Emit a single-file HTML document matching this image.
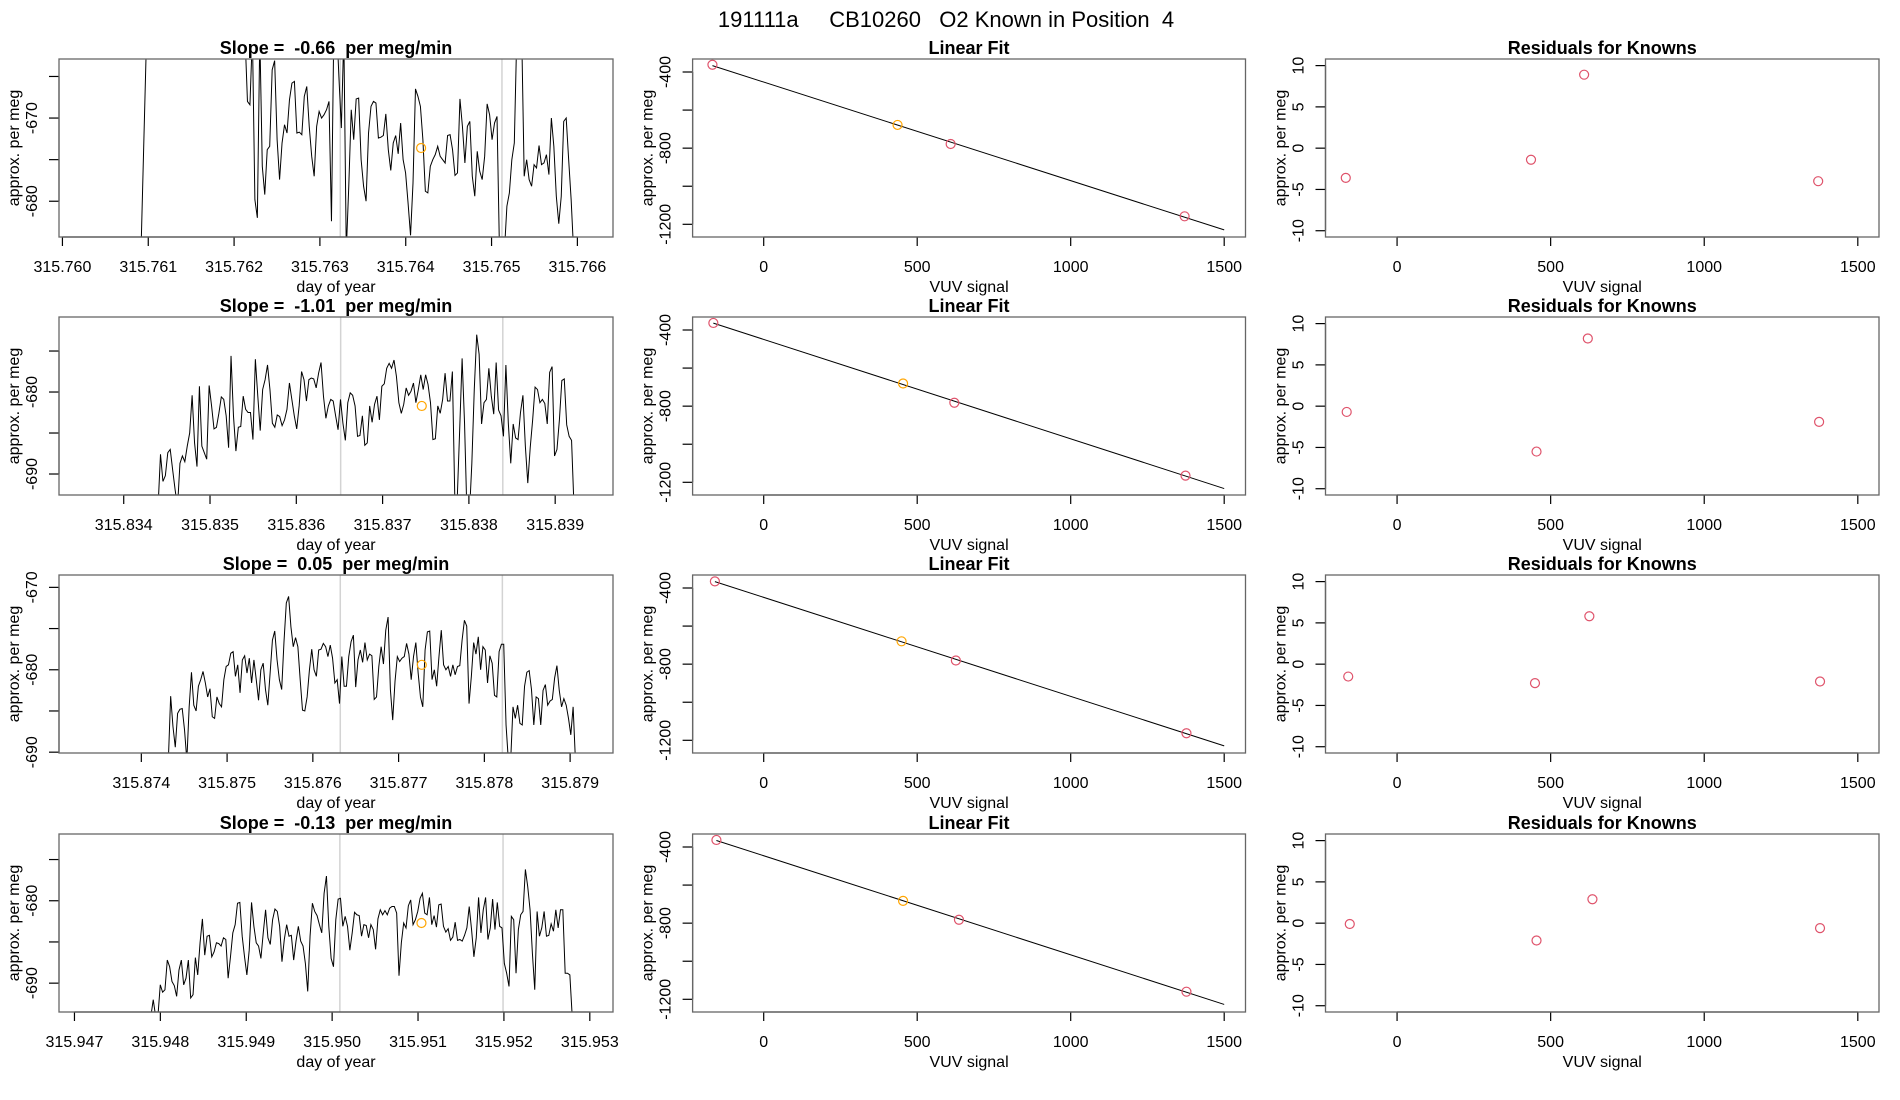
<!DOCTYPE html>
<html>
<head>
<meta charset="utf-8">
<style>
html,body{margin:0;padding:0;background:#fff;}
svg{display:block;font-family:"Liberation Sans",Arial,sans-serif;}
</style>
</head>
<body>
<svg id="fig" width="1900" height="1100" viewBox="0 0 1900 1100" xmlns="http://www.w3.org/2000/svg">
<defs></defs>
</svg>
<script>
// ---------- DATA ----------
const mainTitle = "191111a     CB10260   O2 Known in Position  4";
const slopeLabels = ["-0.66", "-1.01", "0.05", "-0.13"];

// time series start/end (day of year), samples evenly spaced
const r1Start = 315.760918, r1End = 315.765956;
const r2Start = 315.834398, r2End = 315.839218;
const r3Start = 315.874315, r3End = 315.879062;
const r4Start = 315.947890, r4End = 315.952795;

const r1Y = [-685,-673.5,-662,-645,-645,-645,-645,-645,-645,-645,-645,-645,-645,-645,-645,-645,-645,-645,-645,-645,-645,-645,-645,-645,-645,-645,-645,-645,-645,-645,-645,-645,-645,-645,-645,-645,-645,-645,-645,-645,-645,-645,
-660,-668.0,-668.4,-660,-679.8,-682.0,-660,-675.8,-679.2,-673.8,-673.4,-664.2,-663.1,-672.6,-677.4,-673.0,-670.8,-671.8,-667.8,-665.8,-665.6,-671.8,-671.7,-672.0,-667.4,-666.2,-671.0,-674.6,-677.0,-671.0,-669.2,-670.0,-669.6,-669.0,-668.0,-682.4,-658,-658,-665.0,-671.2,-660,-686,-678.2,-669.0,-672.6,-667.7,-667.6,-675.0,-678.2,-680.0,-671.8,-668.6,-668.0,-668.2,-672.4,-672.3,-672.1,-669.5,-673.8,-676.3,-673.0,-672.1,-674.3,-670.6,-675.0,-676.6,-680.2,-684.1,-677.8,-666.5,-667.4,-668.6,-672.6,-678.8,-679.0,-675.8,-675.0,-674.4,-673.4,-674.6,-675.0,-675.4,-672.1,-672.0,-673.8,-676.9,-676.6,-667.7,-671.0,-675.4,-671.0,-670.4,-677.0,-679.4,-674.0,-676.4,-677.4,-674.6,-668.3,-669.6,-672.6,-670.6,-669.8,-686,-690,-686,-680.6,-679.0,-675.0,-673.0,-660,-655,-660,-677.0,-675.0,-677.4,-678.2,-675.6,-676.0,-673.3,-675.6,-675.4,-674.4,-676.8,-670.0,-673.4,-679.4,-682.7,-679.4,-670.4,-670.0,-675.0,-679.8,-686];

const r2Y = [-694,-687.6,-690.9,-690.2,-687.4,-687.0,-689.5,-691.9,-694,-688.7,-687.8,-688.5,-686.6,-685.0,-680.4,-686.2,-689.1,-679.3,-686.6,-687.4,-688.2,-679.2,-681.7,-684.5,-684.3,-682.6,-680.6,-680.9,-682.9,-686.8,-675.6,-682.9,-687.2,-684.3,-684.2,-680.5,-682.1,-682.5,-682.5,-685.8,-676.0,-680.5,-684.7,-679.7,-678.5,-676.7,-679.7,-683.8,-684.3,-682.8,-683.0,-684.1,-683.4,-682.1,-678.9,-680.9,-682.9,-684.5,-681.7,-677.5,-678.5,-681.1,-678.5,-678.3,-678.4,-679.5,-677.7,-676.4,-680.5,-683.2,-681.7,-680.9,-681.1,-682.9,-684.6,-680.9,-683.8,-685.9,-681.3,-680.1,-680.4,-681.7,-685.4,-685.3,-682.9,-686.5,-686.2,-681.7,-683.7,-681.5,-680.5,-683.4,-679.3,-679.0,-677.1,-676.5,-677.1,-676.1,-678.1,-681.3,-682.6,-681.5,-679.5,-680.4,-679.9,-678.9,-681.3,-679.7,-677.9,-679.7,-677.9,-679.1,-681.3,-685.8,-685.7,-681.7,-682.6,-680.9,-677.7,-681.1,-681.1,-677.5,-693,-693,-684.6,-675.9,-683.8,-695,-695,-688.7,-679.7,-673.0,-675.4,-683.9,-681.3,-680.9,-677.1,-680.5,-682.7,-676.4,-682.2,-682.9,-685.4,-676.7,-683.8,-688.7,-683.9,-685.6,-685.8,-682.5,-680.4,-686.6,-691.1,-686.8,-683.4,-679.4,-679.7,-681.3,-680.9,-681.4,-683.9,-677.6,-676.9,-687.8,-687.0,-683.4,-678.6,-678.4,-684.0,-685.4,-685.9,-694];

const r3Y = [-691,-683.2,-686.9,-689.4,-685.3,-684.8,-684.7,-687.3,-691,-684.5,-680.3,-684.3,-685.0,-682.0,-681.2,-680.2,-681.6,-683.3,-682.3,-685.7,-685.9,-683.3,-684.1,-684.5,-681.2,-679.6,-679.4,-678.0,-677.8,-680.8,-679.4,-682.8,-678.8,-678.3,-680.4,-678.6,-681.6,-678.8,-681.2,-683.7,-680.0,-679.2,-682.4,-684.3,-680.4,-676.4,-675.3,-678.8,-681.2,-682.4,-676.6,-671.9,-671.1,-674.8,-677.2,-676.1,-677.2,-681.2,-684.9,-685.0,-683.3,-680.0,-677.5,-680.0,-680.8,-677.6,-677.5,-676.8,-677.2,-678.4,-677.0,-678.6,-681.6,-681.2,-684.1,-678.4,-682.0,-682.0,-678.4,-676.6,-675.8,-682.1,-678.8,-677.6,-679.1,-676.7,-678.8,-678.1,-678.3,-683.6,-683.3,-679.6,-677.2,-679.3,-675.2,-673.6,-682.4,-686.1,-681.4,-678.4,-679.0,-678.6,-678.4,-676.8,-678.1,-681.2,-678.4,-676.7,-680.4,-683.3,-684.5,-677.6,-675.4,-675.3,-681.2,-680.0,-682.0,-678.4,-675.2,-679.4,-680.0,-679.6,-680.8,-679.4,-680.6,-679.6,-679.5,-676.4,-674.0,-674.7,-684.1,-680.8,-676.7,-678.1,-676.0,-680.0,-677.2,-677.6,-681.6,-678.3,-679.2,-683.1,-683.3,-677.8,-676.9,-676.9,-686.7,-691,-691,-684.5,-685.9,-684.3,-686.5,-686.7,-682.0,-680.3,-680.1,-682.4,-686.7,-683.3,-683.5,-686.7,-682.5,-681.8,-684.3,-683.8,-683.6,-681.0,-679.5,-682.5,-684.5,-683.5,-684.3,-685.9,-687.9,-684.5,-691];

const r4Y = [-694,-692.0,-694,-694,-690.2,-691.1,-690.8,-687.2,-688.0,-689.8,-690.3,-691.6,-688.4,-687.2,-690.2,-689.4,-687.2,-691.8,-691.4,-686.9,-689.0,-685.1,-682.2,-686.6,-684.3,-684.2,-686.8,-686.2,-685.1,-685.2,-685.5,-684.5,-684.7,-689.4,-686.8,-683.9,-682.9,-680.3,-680.2,-684.3,-686.8,-689.0,-686.0,-680.2,-683.1,-685.1,-685.5,-687.0,-683.9,-681.1,-684.5,-685.3,-682.3,-681.0,-681.3,-683.1,-687.4,-684.7,-682.9,-684.3,-684.2,-687.2,-684.9,-683.1,-684.9,-685.5,-687.6,-691.0,-684.3,-680.3,-681.3,-681.8,-682.9,-683.9,-679.1,-677.0,-683.1,-687.0,-688.0,-682.3,-679.8,-679.7,-683.1,-681.9,-683.1,-686.0,-683.9,-681.4,-681.7,-681.8,-684.3,-682.9,-683.0,-684.5,-682.9,-683.5,-685.9,-682.2,-681.1,-681.7,-681.2,-681.7,-680.9,-680.7,-680.7,-681.5,-689.1,-685.1,-682.7,-683.3,-680.6,-679.9,-682.9,-682.3,-681.3,-679.7,-679.1,-681.5,-681.7,-679.6,-682.9,-681.8,-683.2,-680.5,-680.4,-683.1,-683.8,-683.4,-684.8,-684.4,-682.6,-684.8,-684.7,-684.9,-684.2,-683.3,-680.7,-683.5,-686.8,-684.5,-679.6,-683.9,-681.1,-679.6,-684.7,-683.3,-679.8,-683.5,-680.2,-683.1,-683.3,-687.6,-688.8,-690.4,-681.9,-682.3,-688.8,-683.5,-681.7,-681.3,-676.2,-678.3,-681.1,-686.4,-690.8,-681.3,-684.3,-683.3,-681.3,-684.3,-684.2,-682.8,-683.7,-681.1,-683.3,-681.1,-681.1,-688.8,-688.8,-689.0,-694];

// window markers (gray lines) and the orange "known" point
const grayLines = [[315.763237,315.765121],[315.836514,315.838393],[315.876320,315.878210],[315.950090,315.951990]];
const orangeT = [315.764179, 315.837454, 315.877270, 315.951040];
const orangeV = [-673.6, -681.7, -679.4, -682.7];

// axis domains / ticks, col 1
const tsXDomain = [[315.75996,315.766415],[315.83325,315.83967],[315.87304,315.87950],[315.94682,315.95327]];
const tsYDomain = [[-684.3,-662.9],[-692.56,-670.85],[-690.1,-668.5],[-693.5,-671.9]];
const tsXTicks = [
 ["315.760","315.761","315.762","315.763","315.764","315.765","315.766"],
 ["315.834","315.835","315.836","315.837","315.838","315.839"],
 ["315.874","315.875","315.876","315.877","315.878","315.879"],
 ["315.947","315.948","315.949","315.950","315.951","315.952","315.953"]];
const tsYTicks = [[-665,-670,-675,-680],[-675,-680,-685,-690],[-670,-675,-680,-685,-690],[-675,-680,-685,-690]];
const tsYLabels = [[-670,-680],[-680,-690],[-670,-680,-690],[-680,-690]];

// linear fit: VUV signal vs per meg (knowns); index 1 is the orange one
const fitX = [[-167,436,609,1371],[-164,454,621,1374],[-159,449,626,1377],[-154,454,636,1377]];
const fitY = [[-362,-678,-778,-1158],[-363,-681,-782,-1165],[-365,-680,-781,-1163],[-363,-683,-782,-1160]];
// residuals
const resX = [[-167,436,609,1371],[-164,454,621,1374],[-159,449,626,1377],[-154,454,636,1377]];
const resY = [[-3.6,-1.4,8.9,-4.0],[-0.7,-5.5,8.2,-1.9],[-1.5,-2.3,5.8,-2.1],[-0.1,-2.1,2.9,-0.6]];

const vuvTicks = [0,500,1000,1500];
const fitYTicks = [-400,-600,-800,-1000,-1200];
const fitYLabels = [-400,-800,-1200];
const resYTicks = [-10,-5,0,5,10];

// ---------- DRAWING ----------
const NS = "http://www.w3.org/2000/svg";
const svg = document.getElementById("fig");
const defs = svg.querySelector("defs");
const colL = [59, 692.6, 1325.5], colR = [613, 1245.5, 1879];
const rowT = [59, 317, 575, 834], BOXH = 178;
const RED = "#DF536B", ORANGE = "#FFA500";

function mk(tag, attrs, parent){
  const e = document.createElementNS(NS, tag);
  for (const k in attrs) e.setAttribute(k, attrs[k]);
  (parent||svg).appendChild(e);
  return e;
}
function txt(s, x, y, size, opts, parent){
  opts = opts||{};
  const e = mk("text", {x:x, y:y, "font-size":size, "text-anchor":opts.anchor||"middle", fill:"#000"}, parent);
  if (opts.bold) e.setAttribute("font-weight","bold");
  if (opts.rot) e.setAttribute("transform","rotate(-90 "+x+" "+y+")");
  e.setAttribute("xml:space","preserve");
  e.style.whiteSpace = "pre";
  e.textContent = s;
  return e;
}
function scale(d0,d1,p0,p1){ return v => p0 + (v-d0)/(d1-d0)*(p1-p0); }

const t = txt(mainTitle, 946, 27, 22);



function drawAxes(g, L, R, T, sx, sy, xVals, xLabels, yTicks, yLabels, xTitle, title){
  const B = T + BOXH;
  // title
  const ti = txt(title, (L+R)/2, T-5, 18, {bold:true}, g);
  
  
  // x axis
  const xa = mk("g", {}, g);
  
  
  mk("line", {x1:sx(xVals[0]), x2:sx(xVals[xVals.length-1]), y1:B, y2:B, stroke:"#000", "stroke-width":1.2}, xa);
  xVals.forEach((v,i) => {
    const x = sx(v);
    mk("line", {x1:x, x2:x, y1:B, y2:B+9, stroke:"#000", "stroke-width":1.2}, xa);
    const lb = txt(xLabels[i], x, B+35, 16, {}, xa);
    
    
  });
  const xt = txt(xTitle, (L+R)/2, B+55, 16, {}, g);
  
  
  // y axis
  const ya = mk("g", {}, g);
  
  
  const ys = yTicks.map(sy);
  mk("line", {x1:L, x2:L, y1:Math.min(...ys), y2:Math.max(...ys), stroke:"#000", "stroke-width":1.2}, ya);
  yTicks.forEach(v => {
    const y = sy(v);
    mk("line", {x1:L-10, x2:L, y1:y, y2:y, stroke:"#000", "stroke-width":1.2}, ya);
  });
  yLabels.forEach(v => {
    const lb = txt(String(v), L-22, sy(v), 16, {rot:true}, ya);
    
    
  });
  const yt = txt("approx. per meg", L-40, T+BOXH/2, 16, {rot:true}, g);
  
  
  // box
  const bx = mk("rect", {x:L, y:T, width:R-L, height:BOXH, fill:"none", stroke:"#666", "stroke-width":1.3}, g);
  
  
}

const series = [[r1Start,r1End,r1Y],[r2Start,r2End,r2Y],[r3Start,r3End,r3Y],[r4Start,r4End,r4Y]];

for (let r=0; r<4; r++){
  const T = rowT[r], B = T+BOXH;
  // ---- column 1: time series ----
  {
    const L = colL[0], R = colR[0];
    const g = mk("g", {});
    
    
    const sx = scale(tsXDomain[r][0], tsXDomain[r][1], L, R);
    const sy = scale(tsYDomain[r][0], tsYDomain[r][1], B, T);
    const cp = mk("clipPath", {id:"clip"+r}, defs);
    mk("rect", {x:L, y:T, width:R-L, height:BOXH}, cp);
    grayLines[r].forEach(v => {
      const gl = mk("line", {x1:sx(v), x2:sx(v), y1:T, y2:B, stroke:"#d3d3d3", "stroke-width":1.5}, g);
      
      
    });
    const [t0,t1,ys] = series[r];
    const dt = (t1-t0)/(ys.length-1);
    const pts = ys.map((v,i) => sx(t0+i*dt).toFixed(2)+","+sy(v).toFixed(2)).join(" ");
    const pl = mk("polyline", {points:pts, fill:"none", stroke:"#000", "stroke-width":1, "clip-path":"url(#clip"+r+")"}, g);
    
    
    const oc = mk("circle", {cx:sx(orangeT[r]), cy:sy(orangeV[r]), r:4.5, fill:"none", stroke:ORANGE, "stroke-width":1.2}, g);
    
    
    const xv = tsXTicks[r].map(Number);
    drawAxes(g, L, R, T, sx, sy, xv, tsXTicks[r], tsYTicks[r], tsYLabels[r], "day of year", "Slope =  " + slopeLabels[r] + "  per meg/min");
  }
  // ---- column 2: linear fit ----
  {
    const L = colL[1], R = colR[1];
    const g = mk("g", {});
    
    
    const sx = scale(-231.6, 1569.4, L, R);
    const sy = scale(-1266.7, -331.7, B, T);
    const xs = fitX[r], ys = fitY[r], n = xs.length;
    const mx = xs.reduce((a,b)=>a+b)/n, my = ys.reduce((a,b)=>a+b)/n;
    let sxy=0, sxx=0;
    for (let i=0;i<n;i++){ sxy += (xs[i]-mx)*(ys[i]-my); sxx += (xs[i]-mx)*(xs[i]-mx); }
    const m = sxy/sxx, c = my - m*mx;
    const xa = Math.min(...xs), xb = 1500;
    const fl = mk("line", {x1:sx(xa), y1:sy(m*xa+c), x2:sx(xb), y2:sy(m*xb+c), stroke:"#000", "stroke-width":1}, g);
    
    
    for (let i=0;i<n;i++){
      const pc = mk("circle", {cx:sx(xs[i]), cy:sy(ys[i]), r:4.5, fill:"none", stroke:(i===1?ORANGE:RED), "stroke-width":1.2}, g);
      
      
    }
    drawAxes(g, L, R, T, sx, sy, vuvTicks, vuvTicks.map(String), fitYTicks, fitYLabels, "VUV signal", "Linear Fit");
  }
  // ---- column 3: residuals ----
  {
    const L = colL[2], R = colR[2];
    const g = mk("g", {});
    
    
    const sx = scale(-233, 1569, L, R);
    const sy = scale(-10.76, 10.8, B, T);
    for (let i=0;i<resX[r].length;i++){
      const pc = mk("circle", {cx:sx(resX[r][i]), cy:sy(resY[r][i]), r:4.5, fill:"none", stroke:RED, "stroke-width":1.2}, g);
      
      
    }
    drawAxes(g, L, R, T, sx, sy, vuvTicks, vuvTicks.map(String), resYTicks, resYTicks, "VUV signal", "Residuals for Knowns");
  }
}
</script>
</body>
</html>
